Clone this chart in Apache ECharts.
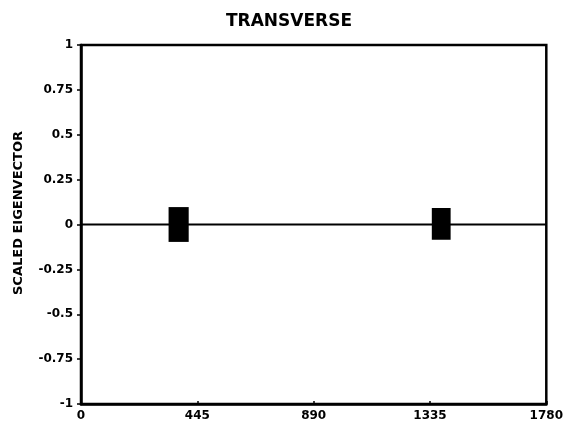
<!DOCTYPE html>
<html>
<head>
<meta charset="utf-8">
<script src="https://cdn.jsdelivr.net/npm/echarts@6/dist/echarts.min.js"></script>
<style>
  html, body { margin: 0; padding: 0; background: #fff; }
  #chart { width: 566px; height: 431px; }
</style>
</head>
<body>
<div id="chart"></div>
<script>
// eigenvector trace along the span (position, value)
const tracePos = [0, 1780];
const traceVal = [0, 0];

// the two dark blocks on the trace
const blockStart = [335, 1342];
const blockEnd = [412, 1414];
const blockLow = [-0.097, -0.085];
const blockHigh = [0.097, 0.092];

const xTicks = [0, 445, 890, 1335, 1780];
const yTicks = [-1, -0.75, -0.5, -0.25, 0, 0.25, 0.5, 0.75, 1];

const font = "'DejaVu Sans', Arial, sans-serif";

let myChart = echarts.init(document.getElementById("chart"));

const option = {
  backgroundColor: "#fff",
  animation: false,
  graphic: [
    {
      // chart title
      type: "text",
      x: 289,
      y: 22,
      style: {
        text: "TRANSVERSE",
        font: "bold 17px " + font,
        fill: "#000",
        align: "center",
        verticalAlign: "middle"
      }
    },
    {
      // y axis title, placed by hand like the original
      type: "text",
      x: 19,
      y: 213,
      rotation: Math.PI / 2,
      style: {
        text: "SCALED EIGENVECTOR",
        font: "bold 13px " + font,
        fill: "#000",
        align: "center",
        verticalAlign: "middle"
      }
    }
  ],
  grid: {
    left: 81, right: 18, top: 45, bottom: 27,
    show: true, borderColor: "#000", borderWidth: 2.5
  },
  xAxis: {
    type: "value",
    min: xTicks[0],
    max: xTicks[xTicks.length - 1],
    interval: 445,
    axisLine: { show: true, onZero: false, lineStyle: { color: "#000", width: 2.5 } },
    axisTick: { show: true, inside: true, length: 3, lineStyle: { color: "#000", width: 1.5 } },
    splitLine: { show: false },
    axisLabel: {
      fontFamily: font, fontSize: 12, fontWeight: "bold", color: "#000", margin: 6,
      formatter: (v) => String(v)
    }
  },
  yAxis: {
    type: "value",
    min: yTicks[0],
    max: yTicks[yTicks.length - 1],
    interval: 0.25,
    axisLine: { show: true, onZero: false, lineStyle: { color: "#000", width: 2.5 } },
    axisTick: { show: true, length: 4, lineStyle: { color: "#000", width: 1.5 } },
    splitLine: { show: false },
    axisLabel: {
      fontFamily: font, fontSize: 12, fontWeight: "bold", color: "#000", margin: 8,
      formatter: (v) => String(v)
    }
  },
  series: [
    {
      type: "line",
      data: tracePos.map((x, i) => [x, traceVal[i]]),
      symbol: "none",
      lineStyle: { color: "#000", width: 2 },
      z: 3
    },
    {
      type: "custom",
      data: blockStart.map((x, i) => [x, blockEnd[i], blockLow[i], blockHigh[i]]),
      renderItem: function (params, api) {
        const p0 = api.coord([api.value(0), api.value(3)]);
        const p1 = api.coord([api.value(1), api.value(2)]);
        return {
          type: "rect",
          shape: { x: p0[0], y: p0[1], width: p1[0] - p0[0], height: p1[1] - p0[1] },
          style: { fill: "#000" }
        };
      },
      z: 4
    }
  ]
};

myChart.setOption(option);
</script>
</body>
</html>
